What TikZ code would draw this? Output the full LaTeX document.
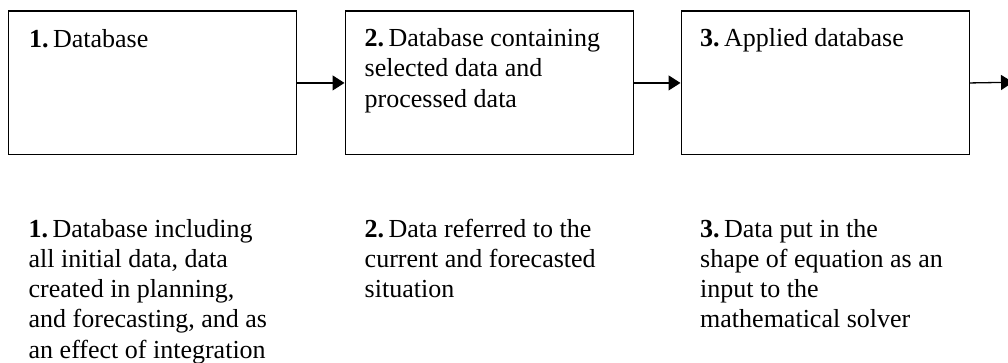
\documentclass[tikz,border=0pt]{standalone}
\usepackage{fontspec}
\setmainfont{Liberation Serif}
\usetikzlibrary{arrows.meta}
\begin{document}
\begin{tikzpicture}[x=1pt,y=-1pt,
  stagebox/.style={draw=black, line width=1.4pt, rectangle, inner sep=0pt,
    minimum width=288pt, minimum height=143.5pt, anchor=north west},
  txt/.style={inner sep=0pt, anchor=north west, align=left,
    font=\fontsize{26}{30.2}\selectfont},
  arr/.style={line width=1.3pt, -{Triangle[length=12pt,width=15pt]}}]
\useasboundingbox (0,0) rectangle (1008,363);
\node[stagebox] (b1) at (8,10.5) {};
\node[stagebox] (b2) at (344.5,10.5) {};
\node[stagebox] (b3) at (680.5,10.5) {};
\coordinate (end) at (1013,82.25);
\draw[arr] (b1.east) -- (b2.west);
\draw[arr] (b2.east) -- (b3.west);
\draw[arr] (b3.east) -- (end);
\node[txt] (t1) at (29,29) {\textbf{1.}\,Database};
\node[txt] (t2) at (364.5,28.5) {\textbf{2.}\,Database containing\\selected data and\\processed data};
\node[txt] (t3) at (700,28.5) {\textbf{3.}\,Applied database};
\node[txt] (d1) at (28.5,219) {\textbf{1.}\,Database including\\all initial data, data\\created in planning,\\and forecasting, and as\\an effect of integration};
\node[txt] (d2) at (364.5,219) {\textbf{2.}\,Data referred to the\\current and forecasted\\situation};
\node[txt] (d3) at (700,219) {\textbf{3.}\,Data put in the\\shape of equation as an\\input to the\\mathematical solver};
\end{tikzpicture}
\end{document}
